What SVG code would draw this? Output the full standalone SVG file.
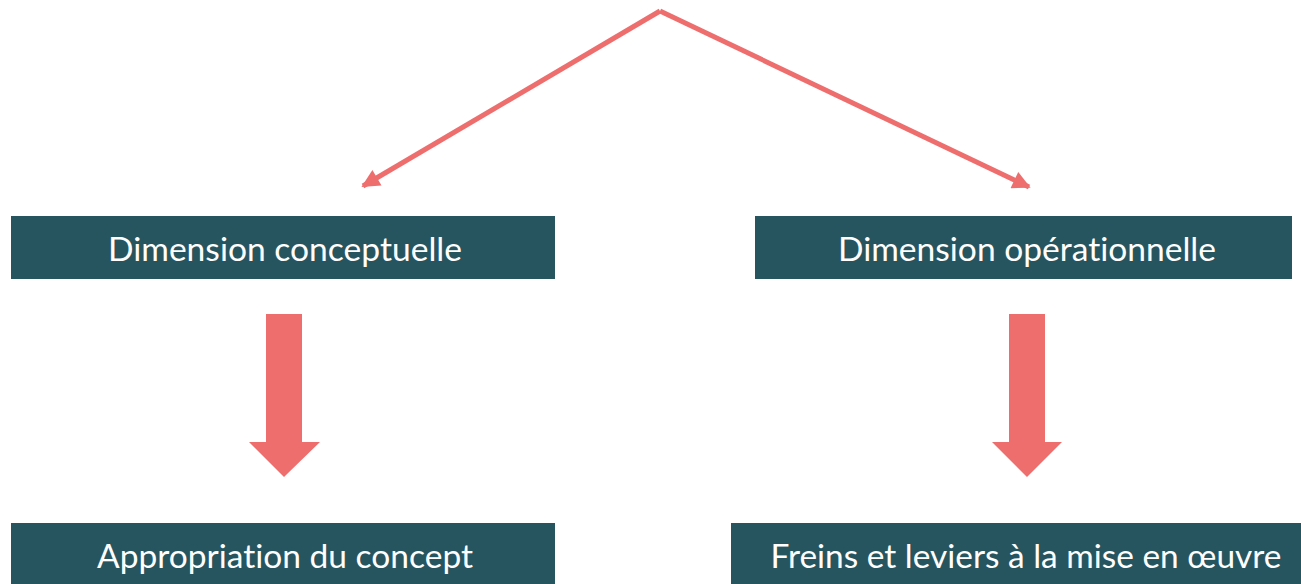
<svg xmlns="http://www.w3.org/2000/svg" width="1301" height="584" viewBox="0 0 1301 584">
<style>
.box{fill:#27555F}
.lbl{fill:#FFFFFF;font-family:Lato,"Open Sans","Liberation Sans",sans-serif;font-size:33px;text-anchor:middle;font-variant-ligatures:none;font-feature-settings:"liga" 0,"dlig" 0}
.con{stroke:#EE6E6E;stroke-width:5;fill:none}
.big{fill:#EE6E6E}
</style>
<defs>
<marker id="ah" viewBox="0 0 10 10" refX="9" refY="5" markerWidth="4.4" markerHeight="3.6" orient="auto" markerUnits="strokeWidth">
<path d="M0,0 L10,5 L0,10 z" fill="#EE6E6E"/>
</marker>
</defs>
<rect width="1301" height="584" fill="#FFFFFF"/>
<g id="connectors">
<path class="con" d="M660,11 L363,186" marker-end="url(#ah)"/>
<path class="con" d="M660,11 L1029,187" marker-end="url(#ah)"/>
<path class="big" d="M266,314 H302 V442 H320 L284,477 L249,442 H266 Z"/>
<path class="big" d="M1009,314 H1045 V442 H1062 L1027,477 L992,442 H1009 Z"/>
</g>
<g id="n1"><rect class="box" x="11" y="216" width="544" height="63"/><text class="lbl" x="285" y="261" textLength="354" lengthAdjust="spacingAndGlyphs">Dimension conceptuelle</text></g>
<g id="n2"><rect class="box" x="755" y="216" width="537" height="63"/><text class="lbl" x="1027" y="261" textLength="378" lengthAdjust="spacingAndGlyphs">Dimension opérationnelle</text></g>
<g id="n3"><rect class="box" x="11" y="523" width="544" height="61"/><text class="lbl" x="285" y="568" textLength="376" lengthAdjust="spacingAndGlyphs">Appropriation du concept</text></g>
<g id="n4"><rect class="box" x="731" y="523" width="570" height="61"/><text class="lbl" x="1026" y="568" textLength="511" lengthAdjust="spacingAndGlyphs">Freins et leviers à la mise en œuvre</text></g>
</svg>
